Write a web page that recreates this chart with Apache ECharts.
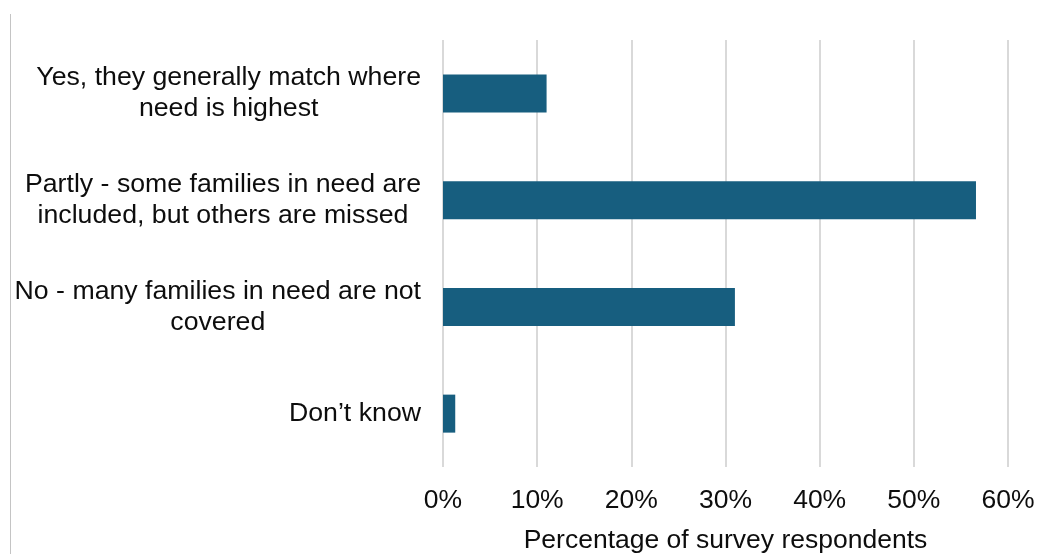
<!DOCTYPE html>
<html>
<head>
<meta charset="utf-8">
<title>Survey responses</title>
<script src="https://cdn.jsdelivr.net/npm/echarts@6/dist/echarts.min.js"></script>
<style>
  html, body { margin: 0; padding: 0; background: #ffffff; }
  #chart { width: 1037px; height: 554px; }
</style>
</head>
<body>
<div id="chart"></div>
<script>
// Answer options (top to bottom) and share of respondents choosing each, in %
const categories = [
  'Yes, they generally match where\nneed is highest',
  'Partly - some families in need are\nincluded, but others are missed',
  'No - many families in need are not\ncovered',
  'Don\u2019t know'
];
const shares = [11.0, 56.6, 31.0, 1.3];
const xTicks = { min: 0, max: 60, interval: 10 };
const xAxisTitle = 'Percentage of survey respondents';

const FONT = '"Liberation Sans", Arial, sans-serif';
const TEXT = '#0d0d0d';

const chart = echarts.init(document.getElementById('chart'), null, { renderer: 'canvas' });

chart.setOption({
  animation: false,
  backgroundColor: '#ffffff',
  grid: {
    left: 443, right: 29, top: 40, bottom: 87,
    containLabel: false,
    outerBoundsMode: 'none'
  },
  xAxis: {
    type: 'value',
    min: xTicks.min,
    max: xTicks.max,
    interval: xTicks.interval,
    axisLine: { show: false },
    axisTick: { show: false },
    splitLine: { show: true, lineStyle: { color: '#d9d9d9', width: 2 } },
    axisLabel: {
      formatter: v => v + '%',
      fontFamily: FONT, fontSize: 26.5, color: TEXT, margin: 20
    },
    name: xAxisTitle,
    nameLocation: 'middle',
    nameGap: 60,
    nameTextStyle: { fontFamily: FONT, fontSize: 26.5, color: TEXT }
  },
  yAxis: {
    type: 'category',
    data: categories,
    inverse: true,
    axisLine: { show: false },
    axisTick: { show: false },
    splitLine: { show: false },
    axisLabel: {
      margin: 22,
      align: 'right',
      // each line centred within the right-aligned label block
      formatter: v => v.split('\n').map(l => '{c|' + l + '}').join('\n'),
      rich: {
        c: { align: 'center', fontFamily: FONT, fontSize: 26.7, lineHeight: 31, color: TEXT }
      }
    }
  },
  series: [{
    type: 'bar',
    data: shares,
    barWidth: 38,
    itemStyle: { color: '#175e7f' }
  }],
  graphic: [{
    type: 'line',
    shape: { x1: 10.5, y1: 14, x2: 10.5, y2: 554 },
    style: { stroke: '#c4c4c4', lineWidth: 1 },
    silent: true
  }]
});
</script>
</body>
</html>
